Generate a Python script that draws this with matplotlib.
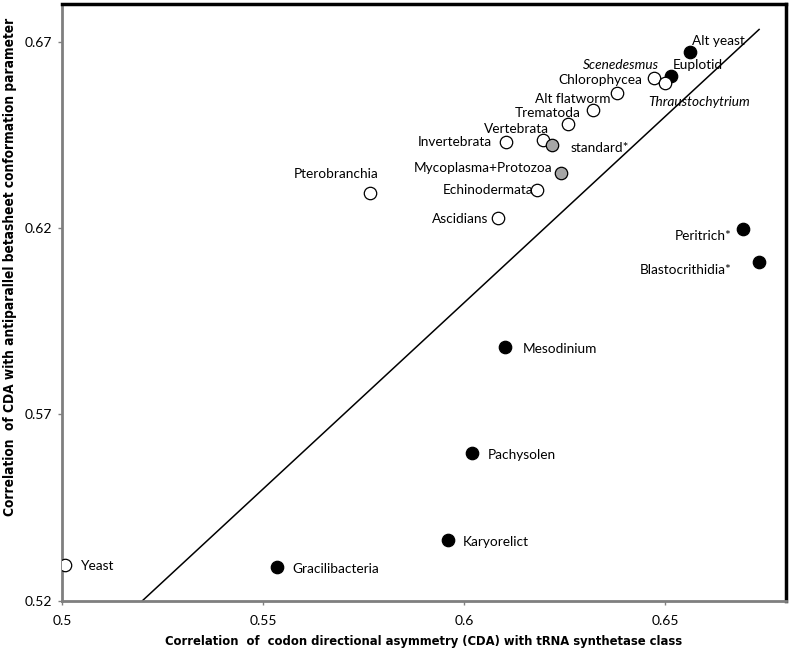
import matplotlib
matplotlib.use('Agg')
import matplotlib.pyplot as plt

# Codigos geneticos: correlacion CDA con clase de tRNA sintetasa (x) y con conformacion beta antiparalela (y)
names = ['Alt yeast', 'Euplotid', 'Scenedesmus', 'Thraustochytrium', 'Chlorophycea',
         'Alt flatworm', 'Trematoda', 'Vertebrata', 'standard*', 'Invertebrata',
         'Mycoplasma+Protozoa', 'Echinodermata', 'Ascidians', 'Pterobranchia',
         'Peritrich*', 'Blastocrithidia*', 'Mesodinium', 'Pachysolen', 'Karyorelict',
         'Gracilibacteria', 'Yeast']
cda_trna = [0.6560, 0.6514, 0.6471, 0.6498, 0.6380,
            0.6320, 0.6259, 0.6196, 0.6219, 0.6103,
            0.6241, 0.6181, 0.6083, 0.5766,
            0.6693, 0.6732, 0.6102, 0.6020, 0.5960,
            0.5535, 0.5007]
cda_beta = [0.6673, 0.6607, 0.6603, 0.6589, 0.6562,
            0.6516, 0.6479, 0.6436, 0.6423, 0.6431,
            0.6348, 0.6302, 0.6226, 0.6295,
            0.6197, 0.6109, 0.5882, 0.5597, 0.5363,
            0.5291, 0.5296]
kind = ['filled', 'filled', 'open', 'open', 'open',
        'open', 'open', 'open', 'grey', 'open',
        'grey', 'open', 'open', 'open',
        'filled', 'filled', 'filled', 'filled', 'filled',
        'filled', 'open']

diag = [0.52, 0.6733]     # recta x = y
xticks = [0.5, 0.55, 0.6, 0.65]
yticks = [0.52, 0.57, 0.62, 0.67]

# posicion de las etiquetas (pixeles respecto al punto)
label_pos = {
    'Alt yeast': (2, 11, 'left'), 'Euplotid': (2, 11, 'left'),
    'Scenedesmus': (5, 13, 'right'), 'Thraustochytrium': (-16, -19, 'left'),
    'Chlorophycea': (25, 13, 'right'), 'Alt flatworm': (18, 11, 'right'),
    'Trematoda': (12, 11, 'right'), 'Vertebrata': (6, 11, 'right'),
    'standard*': (18, -3, 'left'), 'Invertebrata': (-14, 0, 'right'),
    'Mycoplasma+Protozoa': (-9, 5, 'right'), 'Echinodermata': (-4, 0, 'right'),
    'Ascidians': (-9, -1, 'right'), 'Pterobranchia': (8, 19, 'right'),
    'Peritrich*': (-11, -7, 'right'), 'Blastocrithidia*': (-27, -8, 'right'),
    'Mesodinium': (17, -2, 'left'), 'Pachysolen': (15, -2, 'left'),
    'Karyorelict': (15, -2, 'left'), 'Gracilibacteria': (15, -2, 'left'),
    'Yeast': (16, -1, 'left'),
}
italic = ['Scenedesmus', 'Thraustochytrium']
fill = {'filled': 'black', 'open': 'white', 'grey': '#a6a6a6'}

plt.rcParams['font.family'] = ['Lato', 'DejaVu Sans']

fig = plt.figure(figsize=(7.9, 6.51), dpi=100)
ax = fig.add_axes([0.0785, 0.0773, 0.9165, 0.9158])

ax.plot(diag, diag, color='black', lw=1.1, zorder=1)

for n, x, y, k in zip(names, cda_trna, cda_beta, kind):
    ax.scatter(x, y, s=80, facecolor=fill[k], edgecolor='black', linewidths=0.9, zorder=3)
    dx, dy, ha = label_pos[n]
    ax.annotate(n, (x, y), xytext=(dx, dy), textcoords='offset pixels',
                ha=ha, va='center', fontsize=9.8,
                style='italic' if n in italic else 'normal', zorder=4)

ax.set_xlim(0.5, 0.68)
ax.set_ylim(0.52, 0.68)
ax.set_xticks(xticks)
ax.set_xticklabels(['0.5', '0.55', '0.6', '0.65'])
ax.set_yticks(yticks)
ax.set_yticklabels(['0.52', '0.57', '0.62', '0.67'])
ax.tick_params(direction='out', length=3, width=1, color='#808080', labelsize=10, pad=4)
ax.tick_params(axis='x', pad=7)

for s in ['left', 'bottom']:
    ax.spines[s].set_color('#7f7f7f')
    ax.spines[s].set_linewidth(2)
for s in ['top', 'right']:
    ax.spines[s].set_color('black')
    ax.spines[s].set_linewidth(2.5)

ax.set_xlabel('Correlation  of  codon directional asymmetry (CDA) with tRNA synthetase class',
              fontsize=9.3, fontweight='bold', family='DejaVu Sans', fontstretch='condensed')
ax.set_ylabel('Correlation  of CDA with antiparallel betasheet conformation parameter',
              fontsize=9.8, fontweight='bold', family='DejaVu Sans', fontstretch='condensed')
ax.xaxis.set_label_coords(0.5, -0.058)
ax.yaxis.set_label_coords(-0.062, 0.56)

plt.savefig('out.png', dpi=100)
